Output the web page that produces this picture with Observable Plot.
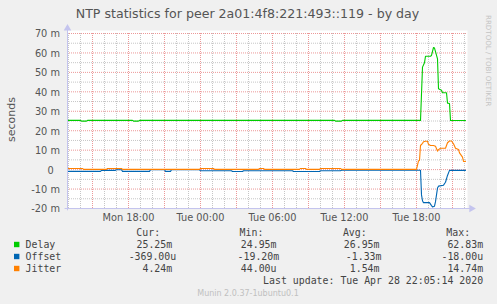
<!DOCTYPE html>
<html><head><meta charset="utf-8">
<script src="https://cdn.jsdelivr.net/npm/d3@7"></script>
<script src="https://cdn.jsdelivr.net/npm/@observablehq/plot@0.6"></script>
<style>
html,body{margin:0;padding:0;background:#f0f0f0;}
#wrap{position:relative;width:497px;height:304px;overflow:hidden;background:#f0f0f0;}
#wrap svg{position:absolute;left:0;top:0;}
</style></head><body><div id="wrap"></div>
<script>
// ---- data (times: "DD HH:MM", UTC, April 2020) ----
const delayTimes = ["27 12:55","27 14:00","27 14:05","27 14:30","27 14:35","27 18:20","27 18:25","27 18:50","27 18:55","28 11:10","28 11:15","28 11:45","28 11:50","28 18:20","28 18:30","28 18:40","28 18:45","28 19:10","28 19:15","28 19:25","28 19:30","28 19:35","28 19:45","28 19:50","28 20:05","28 20:10","28 20:30","28 20:35","28 20:45","28 20:50","28 22:05"];
const delayValues = [25.3,25.3,24.95,24.95,25.3,25.3,24.95,24.95,25.3,25.3,24.95,24.95,25.3,25.3,52.7,55,58.3,58.3,58.8,62.8,62.5,60.7,57,41.6,40.8,39.5,39.5,34.2,34,25.25,25.25];

const offsetTimes = ["27 12:55","27 15:40","27 15:45","27 16:55","27 17:00","27 17:25","27 17:30","27 19:45","27 19:50","27 21:00","27 21:05","27 21:30","27 21:35","27 23:55","28 00:00","28 02:35","28 02:40","28 03:30","28 03:35","28 07:40","28 07:45","28 09:55","28 10:00","28 11:40","28 11:45","28 18:20","28 18:25","28 18:30","28 18:35","28 19:05","28 19:15","28 19:20","28 19:30","28 19:35","28 19:45","28 19:50","28 20:15","28 20:25","28 20:35","28 20:45","28 22:05"];
const offsetValues = [-0.9,-0.9,-0.4,-0.4,-0.1,-0.1,-0.9,-0.9,-0.1,-0.1,-0.9,-0.9,-0.1,-0.1,-0.6,-0.6,-1.0,-1.0,-0.6,-0.6,-1.0,-1.0,-0.6,-0.6,-0.3,-0.3,-13,-16,-17,-17,-18.5,-19.2,-18.8,-16.5,-9.5,-8.5,-8,-6.5,-3,-0.4,-0.37];

const jitterTimes = ["27 12:55","27 14:10","27 14:15","27 16:10","27 16:15","27 17:25","27 17:30","27 23:55","28 00:00","28 01:05","28 01:10","28 04:50","28 04:55","28 05:15","28 05:20","28 08:15","28 08:20","28 08:45","28 08:50","28 09:55","28 10:00","28 11:40","28 11:45","28 18:00","28 18:10","28 18:15","28 18:20","28 18:30","28 18:35","28 18:45","28 18:55","28 19:00","28 19:10","28 19:25","28 19:35","28 19:45","28 19:50","28 20:00","28 20:25","28 20:30","28 20:35","28 20:45","28 20:55","28 21:05","28 21:15","28 21:30","28 21:35","28 21:50","28 21:55","28 22:05"];
const jitterValues = [0.6,0.6,0.1,0.1,0.6,0.6,0.1,0.1,0.6,0.6,0.1,0.1,0.6,0.6,0.1,0.1,0.6,0.6,0.1,0.1,0.6,0.6,0.1,0.1,4.5,4.7,12.4,13.5,14.3,14.6,14.6,13,12.4,12.4,12,9.5,10.3,11,11,12.4,13.8,14.7,14.7,13.3,11,10.3,8.6,6.4,4.2,4.24];

const yTickValues = [-20,-10,0,10,20,30,40,50,60,70];
const yMinorValues = [-15,-5,5,15,25,35,45,55,65];

const seriesNames = ["Delay","Offset","Jitter"];
const seriesColors = ["#00cc00","#0066b3","#ff8000"];
const curValues = ["25.25m","-369.00u","4.24m"];
const minValues = ["24.95m","-19.20m","44.00u"];
const avgValues = ["26.95m","-1.33m","1.54m"];
const maxValues = ["62.83m","-18.00u","14.74m"];
const legendHeaders = ["Cur:","Min:","Avg:","Max:"];
const titleText = "NTP statistics for peer 2a01:4f8:221:493::119 - by day";
const lastUpdate = "Last update: Tue Apr 28 22:05:14 2020";
const footer = "Munin 2.0.37-1ubuntu0.1";
const sideText = "RRDTOOL / TOBI OETIKER";

// ---- build ----
const parseT = s => new Date(`2020-04-${s.slice(0,2)}T${s.slice(3)}:00Z`);
const rows = (ts, vs) => ts.map((t,i) => ({t: parseT(t), v: vs[i]}));
const delay = rows(delayTimes, delayValues);
const offset = rows(offsetTimes, offsetValues);
const jitter = rows(jitterTimes, jitterValues);

const xStart = parseT("27 12:55"), xEnd = parseT("28 22:15");
const hours = d3.utcHour.range(xStart, xEnd);
const minorX = hours.filter(d => d.getUTCHours() % 3 !== 0);
const majorX = hours.filter(d => d.getUTCHours() % 3 === 0);
const xTicks = hours.filter(d => d.getUTCHours() % 6 === 0);
const axisColor = "#c4c4ee";
const minorColor = "#c6c6c6";
const majorColor = "#ec9898";

const chart = Plot.plot({
  width: 497, height: 304,
  marginLeft: 67, marginRight: 30, marginTop: 33, marginBottom: 96,
  style: {background: "transparent", color: "#555", fontFamily: "'DejaVu Sans', sans-serif", fontSize: "9.8px", overflow: "visible"},
  x: {type: "utc", domain: [xStart, xEnd]},
  y: {domain: [-20, 70]},
  marks: [
    Plot.frame({fill: "white", stroke: null, insetTop: -3}),
    Plot.ruleX(minorX, {stroke: minorColor, strokeDasharray: "1,1"}),
    Plot.ruleY(yMinorValues, {stroke: minorColor, strokeDasharray: "1,1"}),
    Plot.ruleX(majorX, {stroke: majorColor, strokeDasharray: "1,1"}),
    Plot.ruleY(yTickValues.filter(v => v > -20), {stroke: majorColor, strokeDasharray: "1,1"}),
    Plot.line(delay, {x: "t", y: "v", stroke: seriesColors[0], strokeWidth: 1.1}),
    Plot.line(offset, {x: "t", y: "v", stroke: seriesColors[1], strokeWidth: 1.1}),
    Plot.line(jitter, {x: "t", y: "v", stroke: seriesColors[2], strokeWidth: 1.1}),
    Plot.ruleX([xStart], {y1: -21.2, y2: 71.8, stroke: axisColor}),
    Plot.ruleY([-20], {x1: d3.utcMinute.offset(xStart, -12), x2: d3.utcMinute.offset(xEnd, 15), stroke: axisColor}),
    Plot.dot([{t: xStart, v: 72.6}], {x: "t", y: "v", symbol: "triangle", r: 2.8, fill: axisColor, stroke: null}),
    Plot.dot([{t: d3.utcMinute.offset(xEnd, 20), v: -20}], {x: "t", y: "v", symbol: "triangle", rotate: 90, r: 2.8, fill: axisColor, stroke: null}),
    Plot.axisY({ticks: yTickValues, tickSize: 0, tickPadding: 7.5, dy: 0.8, tickFormat: v => v === 0 ? "0\u00a0\u00a0" : `${v} m`, label: null, fontSize: 9.8}),
    Plot.axisX({ticks: xTicks, tickSize: 0, tickPadding: 5.5, tickFormat: d3.utcFormat("%a %H:%M"), label: null, fontSize: 9.8})
  ]
});
const wrap = document.getElementById("wrap");
wrap.appendChild(chart);

// ---- overlay texts: title, labels, legend ----
const ov = d3.create("svg").attr("width", 497).attr("height", 304)
  .style("font-family", "'DejaVu Sans', sans-serif");
ov.append("text").attr("x", 247.5).attr("y", 18.3).attr("text-anchor", "middle")
  .attr("font-size", 12.6).attr("fill", "#555").text(titleText);
ov.append("text").attr("transform", "translate(15,119.5) rotate(-90)").attr("text-anchor", "middle")
  .attr("font-size", 11).attr("fill", "#555").text("seconds");
ov.append("text").attr("transform", "translate(485.6,15) rotate(90)").attr("text-anchor", "start")
  .attr("font-size", 7.1).attr("fill", "#c4c4c4").text(sideText);

const mono = "'DejaVu Sans Mono', monospace";
const lg = ov.append("g").style("font-family", mono).attr("font-size", 9.9).attr("fill", "#444");
const headerX = [136.3, 239.6, 342.9, 446.3];
legendHeaders.forEach((h, i) => lg.append("text").attr("x", headerX[i]).attr("y", 236).text(h));
const rowY = [248, 260, 272];
const colEnds = [[172.2, 276.5, 379.5, 483.1], [176.2, 279.2, 381.5, 483.1], [172.2, 276.5, 379.5, 483.1]];
seriesNames.forEach((name, i) => {
  lg.append("rect").attr("x", 14).attr("y", rowY[i] - 6.2).attr("width", 5.4).attr("height", 5.4).attr("fill", seriesColors[i]);
  lg.append("text").attr("x", 25.6).attr("y", rowY[i]).text(name);
  [curValues[i], minValues[i], avgValues[i], maxValues[i]].forEach((v, j) =>
    lg.append("text").attr("x", colEnds[i][j]).attr("y", rowY[i]).attr("text-anchor", "end").text(v));
});
lg.append("text").attr("x", 483.1).attr("y", 284).attr("text-anchor", "end").text(lastUpdate);
ov.append("text").attr("x", 248).attr("y", 296).attr("text-anchor", "middle")
  .attr("font-size", 8).attr("fill", "#c0c0c0").text(footer);
wrap.appendChild(ov.node());
</script></body></html>
